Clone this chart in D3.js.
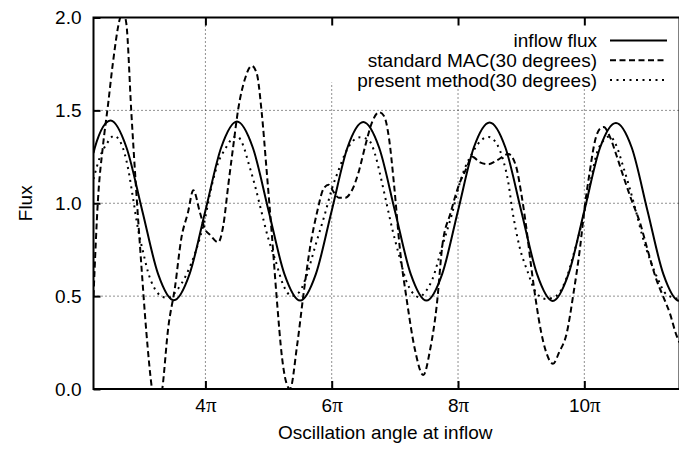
<!DOCTYPE html>
<html>
<head>
<meta charset="utf-8">
<script src="https://cdn.jsdelivr.net/npm/d3@7.9.0/dist/d3.min.js"></script>
<style>
  body { margin: 0; background: #fff; }
  svg { display: block; font-family: "Liberation Sans", Arial, sans-serif; }
</style>
</head>
<body>
<svg id="chart" width="679" height="452"></svg>
<script>
// x values are in units of pi (angle / pi)
const xTicks = [4, 6, 8, 10];
const yTicks = [0, 0.5, 1.0, 1.5, 2.0];
const seriesNames = ["inflow flux", "standard MAC(30 degrees)", "present method(30 degrees)"];

const inflowX = [2.228, 2.25, 2.5, 2.75, 3.0, 3.25, 3.5, 3.75, 4.0, 4.25, 4.5, 4.75, 5.0, 5.25, 5.5, 5.75,
  6.0, 6.25, 6.5, 6.75, 7.0, 7.25, 7.5, 7.75, 8.0, 8.25, 8.5, 8.75, 9.0, 9.25, 9.5, 9.75,
  10.0, 10.25, 10.5, 10.75, 11.0, 11.25, 11.5, 11.507];
const inflowY = [1.27, 1.30, 1.445, 1.30, 0.96, 0.62, 0.478, 0.62, 0.96, 1.30, 1.44, 1.30, 0.96, 0.62, 0.476, 0.62,
  0.96, 1.30, 1.437, 1.30, 0.96, 0.62, 0.476, 0.62, 0.96, 1.30, 1.435, 1.30, 0.96, 0.62, 0.474, 0.62,
  0.96, 1.30, 1.432, 1.30, 0.96, 0.62, 0.475, 0.475];

const macX = [2.228, 2.299, 2.378, 2.458, 2.537, 2.643, 2.695, 2.747, 2.827, 2.906, 2.985, 3.064, 3.154, 3.234,
  3.317, 3.408, 3.519, 3.618, 3.724, 3.808, 3.914, 3.994, 4.073, 4.204, 4.283, 4.363, 4.442, 4.521,
  4.627, 4.733, 4.812, 4.891, 4.971, 5.050, 5.129, 5.213, 5.276, 5.340, 5.450, 5.557, 5.661, 5.767,
  5.873, 5.952, 6.032, 6.111, 6.215, 6.321, 6.428, 6.532, 6.638, 6.749, 6.828, 6.907, 6.987, 7.081,
  7.188, 7.319, 7.450, 7.557, 7.663, 7.751, 7.884, 8.016, 8.122, 8.226, 8.348, 8.480, 8.613, 8.797,
  8.918, 8.998, 9.077, 9.156, 9.235, 9.314, 9.394, 9.504, 9.604, 9.721, 9.826, 9.932, 10.006, 10.086,
  10.165, 10.244, 10.307, 10.402, 10.507, 10.613, 10.744, 10.877, 11.009, 11.140, 11.246, 11.352,
  11.458, 11.507];
const macY = [0.50, 1.02, 1.31, 1.53, 1.76, 1.99, 2.03, 1.97, 1.49, 1.06, 0.67, 0.31, 0.00, -0.13,
  0.00, 0.32, 0.55, 0.81, 0.95, 1.07, 0.95, 0.86, 0.83, 0.79, 0.88, 1.10, 1.31, 1.51,
  1.67, 1.74, 1.70, 1.49, 1.17, 0.84, 0.49, 0.17, 0.04, 0.00, 0.23, 0.52, 0.77, 0.95,
  1.08, 1.10, 1.06, 1.03, 1.03, 1.07, 1.17, 1.31, 1.435, 1.49, 1.47, 1.35, 1.10, 0.75,
  0.48, 0.21, 0.075, 0.21, 0.45, 0.77, 0.95, 1.10, 1.18, 1.25, 1.22, 1.21, 1.23, 1.265,
  1.20, 1.06, 0.88, 0.665, 0.47, 0.31, 0.20, 0.136, 0.20, 0.30, 0.51, 0.76, 0.98, 1.17,
  1.33, 1.40, 1.41, 1.36, 1.26, 1.15, 1.02, 0.90, 0.74, 0.59, 0.50, 0.41,
  0.29, 0.25];

const presentX = [2.228, 2.331, 2.437, 2.553, 2.668, 2.774, 2.853, 2.933, 3.012, 3.091, 3.197, 3.302, 3.408,
  3.545, 3.704, 3.835, 3.994, 4.100, 4.204, 4.310, 4.416, 4.500, 4.600, 4.679, 4.785, 4.891, 4.996,
  5.102, 5.233, 5.371, 5.482, 5.582, 5.740, 5.899, 6.005, 6.111, 6.215, 6.321, 6.453, 6.586, 6.690,
  6.770, 6.855, 6.960, 7.066, 7.172, 7.276, 7.382, 7.477, 7.593, 7.751, 7.910, 8.016, 8.122, 8.226,
  8.317, 8.483, 8.613, 8.717, 8.792, 8.866, 8.971, 9.104, 9.235, 9.394, 9.552, 9.710, 9.842, 9.979,
  10.086, 10.190, 10.323, 10.402, 10.507, 10.613, 10.719, 10.823, 10.930, 11.036, 11.167, 11.299, 11.507];
const presentY = [1.13, 1.25, 1.32, 1.363, 1.32, 1.19, 1.03, 0.86, 0.74, 0.63, 0.54, 0.50, 0.49,
  0.53, 0.62, 0.73, 0.92, 1.095, 1.22, 1.29, 1.345, 1.36, 1.31, 1.22, 1.095, 0.95, 0.81,
  0.70, 0.56, 0.50, 0.52, 0.59, 0.77, 0.95, 1.08, 1.18, 1.27, 1.33, 1.355, 1.34, 1.26,
  1.15, 1.02, 0.86, 0.72, 0.59, 0.52, 0.495, 0.52, 0.59, 0.77, 0.95, 1.095, 1.20, 1.27,
  1.32, 1.357, 1.32, 1.23, 1.12, 0.95, 0.77, 0.63, 0.52, 0.485, 0.50, 0.59, 0.74, 0.92,
  1.095, 1.26, 1.345, 1.36, 1.31, 1.20, 1.08, 0.95, 0.81, 0.70, 0.59, 0.51, 0.485];

const svg = d3.select("#chart");
const plotLeft = 93.5, plotRight = 679.5, plotTop = 17.5, plotBottom = 389;

const x = d3.scaleLinear().domain([2.228, 11.507]).range([plotLeft, plotRight]);
const y = d3.scaleLinear().domain([0, 2]).range([plotBottom, plotTop]);

svg.append("rect").attr("width", 679).attr("height", 452).attr("fill", "#fff");

svg.append("clipPath").attr("id", "plot-clip")
  .append("rect")
  .attr("x", plotLeft).attr("y", plotTop)
  .attr("width", plotRight - plotLeft).attr("height", plotBottom - plotTop);

// Grid
const grid = svg.append("g").attr("stroke", "#222").attr("stroke-width", 1).attr("stroke-dasharray", "1,3");
yTicks.filter(d => d > 0 && d < 2).forEach(d => {
  grid.append("line").attr("x1", plotLeft).attr("x2", plotRight).attr("y1", y(d)).attr("y2", y(d));
});
xTicks.forEach(d => {
  grid.append("line").attr("x1", x(d)).attr("x2", x(d)).attr("y1", plotTop).attr("y2", plotBottom);
});

// key area hides the grid behind it
svg.append("rect")
  .attr("x", 322).attr("y", plotTop + 1)
  .attr("width", plotRight - 322).attr("height", 64)
  .attr("fill", "#fff");

// Curves
const line = d3.line()
  .x(d => x(d[0]))
  .y(d => y(d[1]))
  .curve(d3.curveMonotoneX);

const plot = svg.append("g").attr("clip-path", "url(#plot-clip)");
const styles = [
  { xs: inflowX, ys: inflowY, dash: null, width: 2 },
  { xs: macX, ys: macY, dash: "6,3.5", width: 2 },
  { xs: presentX, ys: presentY, dash: "2,4.5", width: 2 }
];
styles.forEach(s => {
  plot.append("path")
    .datum(d3.zip(s.xs, s.ys))
    .attr("fill", "none")
    .attr("stroke", "#000")
    .attr("stroke-width", s.width)
    .attr("stroke-dasharray", s.dash)
    .attr("d", line);
});

// Axes
const fontSize = 19;
const yAxis = svg.append("g")
  .attr("transform", `translate(${plotLeft},0)`)
  .call(d3.axisLeft(y).tickValues(yTicks).tickSize(-7).tickPadding(12).tickFormat(d3.format(".1f")));
const xAxis = svg.append("g")
  .attr("transform", `translate(0,${plotBottom})`)
  .call(d3.axisBottom(x).tickValues(xTicks).tickSize(-8).tickPadding(10));
const xTop = svg.append("g")
  .attr("transform", `translate(0,${plotTop})`)
  .call(d3.axisTop(x).tickValues(xTicks).tickSize(-8).tickFormat(""));

[yAxis, xAxis, xTop].forEach(a => {
  a.select(".domain").remove();
  a.selectAll(".tick line").attr("stroke", "#000").attr("stroke-width", 2);
  a.selectAll(".tick text")
    .attr("fill", "#000")
    .attr("font-size", fontSize)
    .attr("font-family", "Liberation Sans, Arial, sans-serif");
});
xAxis.selectAll(".tick text").each(function(d) {
  const t = d3.select(this).text(null);
  t.append("tspan").text(d);
  t.append("tspan").attr("font-family", "Liberation Serif, serif").attr("font-size", 21).text("π");
});

// Frame
svg.append("rect")
  .attr("x", plotLeft).attr("y", plotTop)
  .attr("width", plotRight - plotLeft).attr("height", plotBottom - plotTop)
  .attr("fill", "none").attr("stroke", "#000").attr("stroke-width", 2);

// Axis labels
svg.append("text")
  .attr("text-anchor", "middle")
  .attr("x", (plotLeft + 677) / 2)
  .attr("y", 439)
  .attr("font-size", fontSize)
  .text("Oscillation angle at inflow");

svg.append("text")
  .attr("text-anchor", "middle")
  .attr("transform", `translate(31.5,${(plotTop + plotBottom) / 2}) rotate(-90)`)
  .attr("font-size", fontSize)
  .text("Flux");

// Legend
const legend = svg.append("g");
styles.forEach((s, i) => {
  const ly = 40.5 + i * 19.8;
  legend.append("text")
    .attr("text-anchor", "end")
    .attr("x", 597)
    .attr("y", ly + 6.5)
    .attr("font-size", fontSize)
    .text(seriesNames[i]);
  legend.append("line")
    .attr("x1", 610).attr("x2", 667)
    .attr("y1", ly).attr("y2", ly)
    .attr("stroke", "#000")
    .attr("stroke-width", s.width)
    .attr("stroke-dasharray", s.dash);
});
</script>
</body>
</html>
